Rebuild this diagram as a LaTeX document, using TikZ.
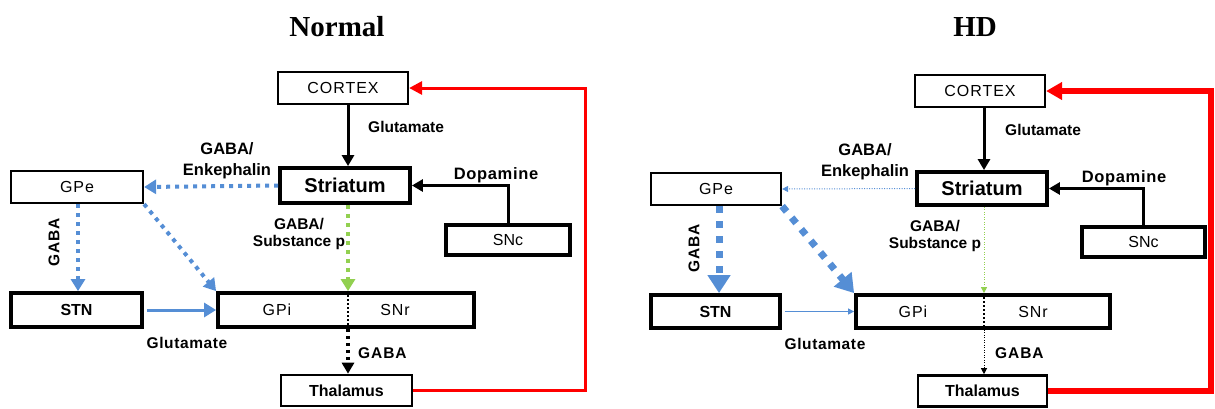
\documentclass[tikz,border=0pt]{standalone}
\usepackage{fontspec}
\setmainfont{Liberation Sans}
\newfontfamily\titlefont{Liberation Serif}
\usetikzlibrary{arrows.meta}
\definecolor{pathblue}{HTML}{558ED5}
\definecolor{pathgreen}{HTML}{92D050}
\definecolor{pathred}{HTML}{FF0000}
\begin{document}
\begin{tikzpicture}[x=1pt,y=-1pt,
  box/.style={draw, line width=2.2pt, inner sep=0pt, font=\fontsize{16}{18}\selectfont},
  tbox/.style={box, line width=3.8pt},
  boxtxt/.style={inner sep=0pt, font=\fontsize{16}{18}\selectfont},
  lab/.style={inner sep=0pt, align=center, font=\bfseries\fontsize{15.5}{19}\selectfont},
  ttl/.style={inner sep=0pt, font=\titlefont\bfseries\fontsize{29}{32}\selectfont},
  blk/.style={line width=3pt, -{Triangle[length=11pt,width=12pt]}},
  dotsL/.style={line width=4pt, dash pattern=on 4pt off 5pt, -{Triangle[length=12pt,width=14pt]}},
  thinarr/.style={line width=1pt, -{Triangle[length=6pt,width=6pt]}},
  thindot/.style={thinarr, dash pattern=on 1pt off 1.5pt},
  fatdash/.style={line width=7pt, dash pattern=on 7pt off 8pt, -{Triangle[length=18pt,width=22pt]}},
  divider/.style={line width=2pt, dash pattern=on 2pt off 2pt}
]
\useasboundingbox (0,0) rectangle (1215,408);

% ================= Normal =================
\node[ttl] (tN) at (337,27) {Normal};
\coordinate (colL) at (348,240);
\coordinate (gabaL) at (78,240);
\coordinate (redL) at (585,240);

\node[box, minimum width=130pt, minimum height=32pt] (cortexL) at (343,88) {\addfontfeatures{LetterSpace=6}CORTEX};
\node[tbox, minimum width=130pt, minimum height=35pt, font=\bfseries\fontsize{20}{22}\selectfont] (striL) at (345,185.5) {Striatum};
\node[tbox, minimum width=124pt, minimum height=30pt] (sncL) at (508,240) {SNc};
\node[box, minimum width=132pt, minimum height=32pt] (gpeL) at (77,187) {\addfontfeatures{LetterSpace=6}GPe};
\node[tbox, minimum width=131pt, minimum height=34pt, font=\bfseries\fontsize{16}{18}\selectfont] (stnL) at (76.5,310) {STN};
\node[tbox, minimum width=256pt, minimum height=34pt] (gpiL) at (346,310) {};
\node[boxtxt] (gpitL) at (277,310) {\addfontfeatures{LetterSpace=6}GPi};
\node[boxtxt] (snrL) at (395,310) {\addfontfeatures{LetterSpace=6}SNr};
\node[box, line width=2.6pt, minimum width=131pt, minimum height=31pt, font=\bfseries\fontsize{16}{18}\selectfont] (thalL) at (346.5,390.5) {Thalamus};

\draw[divider] (gpiL.north -| colL) -- (gpiL.south -| colL);
\draw[blk] (cortexL.south -| colL) -- (striL.north -| colL);
\draw[blk] (sncL.north) |- (striL.east);
\draw[pathred, line width=3pt, -{Triangle[length=13pt,width=13pt]}] (thalL.east) -| (redL) |- (cortexL.east);
\draw[dotsL, pathblue] (striL.west) -- (gpeL.east);
\draw[dotsL, pathblue] (gpeL.south -| gabaL) -- (stnL.north -| gabaL);
\draw[dotsL, pathblue] (gpeL.south east) -- (gpiL.north west);
\draw[pathblue, line width=3pt, shorten <=3pt, -{Triangle[length=12pt,width=14pt]}] (stnL.east) -- (gpiL.west);
\draw[dotsL, pathgreen] (striL.south -| colL) -- (gpiL.north -| colL);
\draw[line width=3.5pt, dash pattern=on 3.5pt off 3.5pt, -{Triangle[length=11pt,width=12pt]}] (gpiL.south -| colL) -- (thalL.north -| colL);

\node[lab, anchor=west] (glu1L) at (368,127) {Glutamate};
\node[lab, font=\bfseries\fontsize{16.5}{21}\selectfont] (encL) at (227,161) {GABA/\\Enkephalin};
\node[lab, font=\bfseries\fontsize{16.5}{19}\selectfont] (dopL) at (496,175) {\addfontfeatures{LetterSpace=4}Dopamine};
\node[lab, font=\bfseries\fontsize{15.5}{17.5}\selectfont] (subL) at (299,234) {GABA/\\Substance p};
\node[lab, rotate=90] (gaba1L) at (54,242) {\addfontfeatures{LetterSpace=6}GABA};
\node[lab] (glu2L) at (187,343) {\addfontfeatures{LetterSpace=4}Glutamate};
\node[lab, anchor=west] (gaba2L) at (358,353) {\addfontfeatures{LetterSpace=6}GABA};

% ================= HD =================
\node[ttl] (tH) at (975,27) {HD};
\coordinate (colR) at (984,240);
\coordinate (gabaR) at (719,240);
\coordinate (redR) at (1211,240);

\node[box, minimum width=130pt, minimum height=32pt] (cortexR) at (980,91) {\addfontfeatures{LetterSpace=6}CORTEX};
\node[tbox, minimum width=130pt, minimum height=33pt, font=\bfseries\fontsize{20}{22}\selectfont] (striR) at (982,188.5) {Striatum};
\node[tbox, minimum width=123pt, minimum height=30pt] (sncR) at (1143.5,242) {SNc};
\node[box, minimum width=130pt, minimum height=32pt] (gpeR) at (716,189) {\addfontfeatures{LetterSpace=6}GPe};
\node[tbox, minimum width=129pt, minimum height=33pt, font=\bfseries\fontsize{16}{18}\selectfont] (stnR) at (715.5,311.5) {STN};
\node[tbox, minimum width=254pt, minimum height=33pt] (gpiR) at (983,311.5) {};
\node[boxtxt] (gpitR) at (913,311.5) {\addfontfeatures{LetterSpace=6}GPi};
\node[boxtxt] (snrR) at (1033,311.5) {\addfontfeatures{LetterSpace=6}SNr};
\node[box, line width=2.6pt, minimum width=129pt, minimum height=31pt, font=\bfseries\fontsize{16}{18}\selectfont] (thalR) at (982.5,391) {Thalamus};

\draw[divider] (gpiR.north -| colR) -- (gpiR.south -| colR);
\draw[blk] (cortexR.south -| colR) -- (striR.north -| colR);
\draw[blk] (sncR.north) |- (striR.east);
\draw[pathred, line width=6pt, -{Triangle[length=16pt,width=17pt]}] (thalR.east) -| (redR) |- (cortexR.east);
\draw[thindot, pathblue] (striR.west) -- (gpeR.east);
\draw[fatdash, pathblue] (gpeR.south -| gabaR) -- (stnR.north -| gabaR);
\draw[fatdash, pathblue] (gpeR.south east) -- (gpiR.north west);
\draw[thinarr, pathblue, shorten <=3pt] (stnR.east) -- (gpiR.west);
\draw[thindot, pathgreen] (striR.south -| colR) -- (gpiR.north -| colR);
\draw[thindot, black] (gpiR.south -| colR) -- (thalR.north -| colR);

\node[lab, anchor=west] (glu1R) at (1005,130) {Glutamate};
\node[lab, font=\bfseries\fontsize{16.5}{21}\selectfont] (encR) at (865,162) {GABA/\\Enkephalin};
\node[lab, font=\bfseries\fontsize{16.5}{19}\selectfont] (dopR) at (1124,178) {\addfontfeatures{LetterSpace=4}Dopamine};
\node[lab, font=\bfseries\fontsize{15.5}{17.5}\selectfont] (subR) at (935,236) {GABA/\\Substance p};
\node[lab, rotate=90] (gaba1R) at (694,248) {\addfontfeatures{LetterSpace=6}GABA};
\node[lab] (glu2R) at (825,344) {\addfontfeatures{LetterSpace=4}Glutamate};
\node[lab, anchor=west] (gaba2R) at (995,353) {\addfontfeatures{LetterSpace=6}GABA};
\end{tikzpicture}
\end{document}
